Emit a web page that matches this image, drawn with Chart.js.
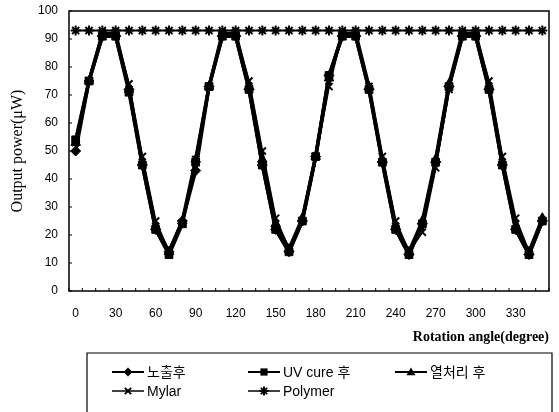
<!DOCTYPE html>
<html>
<head>
<meta charset="utf-8">
<script src="https://cdn.jsdelivr.net/npm/chart.js@4/dist/chart.umd.min.js"></script>
<style>
html,body{margin:0;padding:0;background:#fff;}
#c{display:block;}
</style>
</head>
<body>
<canvas id="c" width="559" height="412"></canvas>
<script>
const angles = ['0','10','20','30','40','50','60','70','80','90','100','110','120','130','140','150','160','170','180','190','200','210','220','230','240','250','260','270','280','290','300','310','320','330','340','350'];
const tickLabels = ['0','30','60','90','120','150','180','210','240','270','300','330'];
const seriesNames = ['노출후','UV cure 후','열처리 후','Mylar','Polymer'];
const afterExposure = [50,75,91,91,72,45,22,14,25,43,73,91,91,72,45,22,14,25,48,77,91,91,72,46,22,13,24,46,73,91,91,72,45,22,13,25];
const afterUVCure   = [54,75,91,91,71,45,22,13,24,46,73,91,91,72,45,22,14,25,48,77,91,91,72,46,22,13,24,46,73,91,91,72,45,22,13,25];
const afterHeat     = [53,75,92,92,72,46,23,14,25,47,73,92,92,73,47,24,15,26,48,76,92,92,73,47,23,14,25,47,74,92,92,73,46,23,14,26];
const mylar         = [53,75,92,92,74,48,25,14,24,47,73,92,92,75,50,26,15,25,48,73,92,92,73,48,25,14,21,44,72,92,92,75,48,26,14,25];
const polymer       = [93,93,93,93,93,93,93,93,93,93,93,93,93,93,93,93,93,93,93,93,93,93,93,93,93,93,93,93,93,93,93,93,93,93,93,93];
const yTicks = [0,10,20,30,40,50,60,70,80,90,100];

const styles = ['rectRot','rect','triangle','crossRot','star'];
const radii = [5,5.5,5.5,5,5];
const widths = [3.5,3.5,3.5,2,2];

function drawMarker(ctx, style, x, y, r){
  ctx.save();
  ctx.fillStyle='#000'; ctx.strokeStyle='#000'; ctx.lineWidth=2;
  ctx.beginPath();
  if(style==='rectRot'){ ctx.moveTo(x,y-r);ctx.lineTo(x+r,y);ctx.lineTo(x,y+r);ctx.lineTo(x-r,y);ctx.closePath();ctx.fill(); }
  else if(style==='rect'){ ctx.rect(x-r*0.8,y-r*0.8,r*1.6,r*1.6);ctx.fill(); }
  else if(style==='triangle'){ ctx.moveTo(x,y-r);ctx.lineTo(x+r,y+r*0.7);ctx.lineTo(x-r,y+r*0.7);ctx.closePath();ctx.fill(); }
  else if(style==='crossRot'){ const d=r*0.7; ctx.moveTo(x-d,y-d);ctx.lineTo(x+d,y+d);ctx.moveTo(x+d,y-d);ctx.lineTo(x-d,y+d);ctx.stroke(); }
  else if(style==='star'){ const d=r*0.7; ctx.moveTo(x-d,y-d);ctx.lineTo(x+d,y+d);ctx.moveTo(x+d,y-d);ctx.lineTo(x-d,y+d);ctx.moveTo(x,y-r);ctx.lineTo(x,y+r);ctx.moveTo(x-r,y);ctx.lineTo(x+r,y);ctx.stroke(); }
  ctx.restore();
}

const framePlugin = {
  id:'frame',
  beforeDatasetsDraw(chart){
    const {ctx, chartArea:a, scales} = chart;
    ctx.save();
    ctx.strokeStyle='#000';
    ctx.lineWidth=1.5;
    ctx.strokeRect(a.left, a.top, a.right-a.left, a.bottom-a.top);
    ctx.lineWidth=1;
    const xs = scales.x;
    const half = (xs.getPixelForValue(1)-xs.getPixelForValue(0))/2;
    for(let i=0;i<=angles.length;i++){
      const px = i<angles.length ? xs.getPixelForValue(i)-half : xs.getPixelForValue(i-1)+half;
      ctx.beginPath(); ctx.moveTo(px,a.bottom); ctx.lineTo(px,a.bottom-3); ctx.stroke();
    }
    const ys = scales.y;
    yTicks.forEach(v=>{ const py=ys.getPixelForValue(v); ctx.beginPath(); ctx.moveTo(a.left,py); ctx.lineTo(a.left+3,py); ctx.stroke(); });
    ctx.restore();
  }
};

const legendPlugin = {
  id:'boxLegend',
  afterDraw(chart){
    const ctx = chart.ctx;
    ctx.save();
    ctx.strokeStyle='#000'; ctx.lineWidth=1.2;
    ctx.beginPath();
    ctx.moveTo(87,420); ctx.lineTo(87,353); ctx.lineTo(552,353); ctx.lineTo(552,420);
    ctx.stroke();
    const pos = [[112,372],[248,372],[395,372],[112,391],[248,391]];
    ctx.font = '14px "Liberation Sans", "Noto Sans CJK KR", sans-serif';
    ctx.textBaseline='middle'; ctx.fillStyle='#000';
    seriesNames.forEach((n,i)=>{
      const [x,y]=pos[i];
      ctx.lineWidth = i<3 ? 2 : 1.5;
      ctx.beginPath(); ctx.moveTo(x,y); ctx.lineTo(x+32,y); ctx.stroke();
      drawMarker(ctx, styles[i], x+16, y, 4.5);
      ctx.fillText(n, x+35, y+1);
    });
    ctx.restore();
  }
};

const datasetsData = [afterExposure, afterUVCure, afterHeat, mylar, polymer];
const datasets = datasetsData.map((d,i)=>({
  label: seriesNames[i],
  data: d,
  borderColor:'#000',
  backgroundColor:'#000',
  borderWidth: widths[i],
  pointStyle: styles[i],
  pointRadius: radii[i],
  pointBorderWidth: i>=3 ? 2 : 1,
  pointBorderColor:'#000',
  pointBackgroundColor:'#000',
  tension:0,
  fill:false
}));

new Chart(document.getElementById('c'), {
  type:'line',
  data:{ labels: angles, datasets: datasets },
  options:{
    responsive:false,
    animation:false,
    devicePixelRatio:1,
    layout:{ padding:{ left:0, right:10, top:11, bottom:66 } },
    plugins:{ legend:{display:false}, tooltip:{enabled:false} },
    scales:{
      x:{
        type:'category',
        offset:true,
        grid:{ display:false, drawTicks:false },
        border:{ display:false },
        ticks:{
          autoSkip:false, maxRotation:0, minRotation:0, padding:15,
          color:'#000',
          font:{ family:'"Liberation Sans", Arial, sans-serif', size:12 },
          callback:function(v,i){ const l=angles[i]; return tickLabels.includes(l) ? l : ''; }
        },
        title:{
          display:true, text:'Rotation angle(degree)', align:'end', color:'#000',
          font:{ family:'"Liberation Serif", "Times New Roman", serif', size:14, weight:'bold' },
          padding:{ top:0, bottom:0 }
        },
        afterFit:function(s){ s.height = 55; s.paddingLeft = 0; s.paddingRight = 0; }
      },
      y:{
        min:0, max:100,
        grid:{ display:false, drawTicks:false },
        border:{ display:false },
        ticks:{
          stepSize:10, padding:11, color:'#000',
          font:{ family:'"Liberation Sans", Arial, sans-serif', size:12 }
        },
        title:{
          display:true, text:'Output power(μW)', color:'#000',
          font:{ family:'"Liberation Serif", "Times New Roman", serif', size:16 },
          padding:{ top:8, bottom:0 }
        },
        afterFit:function(s){ s.width = 69; s.paddingTop = 0; s.paddingBottom = 0; }
      }
    }
  },
  plugins:[framePlugin, legendPlugin]
});
</script>
</body>
</html>
